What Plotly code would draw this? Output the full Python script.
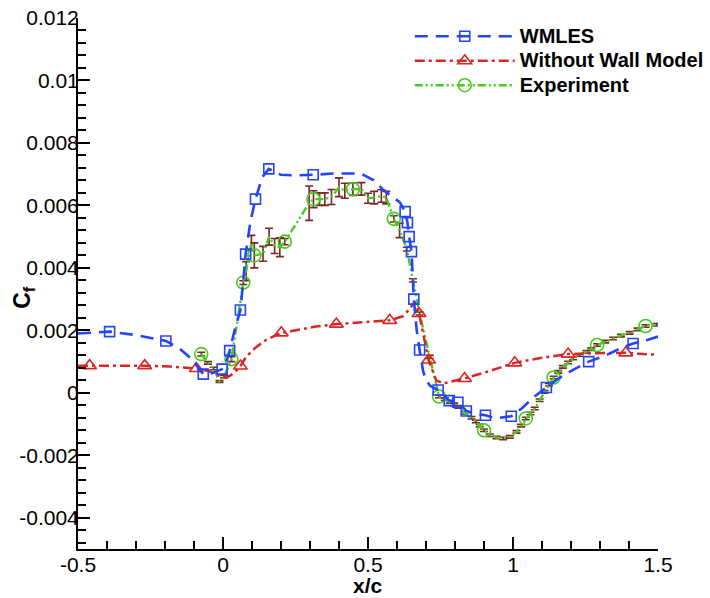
import plotly.graph_objects as go

# ---- WMLES (wall-modelled LES) ----
wm_x = [-0.5, -0.45, -0.391, -0.30, -0.197, -0.15, -0.11, -0.085, -0.068, -0.04, -0.003,
        0.012, 0.023, 0.04, 0.06, 0.07, 0.078, 0.095, 0.112, 0.135, 0.158, 0.20, 0.25,
        0.311, 0.38, 0.45, 0.48, 0.52, 0.55, 0.58, 0.61, 0.628, 0.636, 0.642, 0.650,
        0.658, 0.668, 0.678, 0.69, 0.70, 0.715, 0.742, 0.78, 0.81, 0.839, 0.87, 0.905,
        0.94, 0.994, 1.03, 1.07, 1.115, 1.16, 1.21, 1.261, 1.32, 1.37, 1.414, 1.46, 1.5]
wm_cf = [0.00190, 0.00193, 0.00196, 0.00185, 0.00166, 0.00142, 0.00110, 0.00080, 0.00060,
         0.00062, 0.00076, 0.00100, 0.00135, 0.00200, 0.00265, 0.00360, 0.00444, 0.00550,
         0.00620, 0.00690, 0.00717, 0.00698, 0.00696, 0.00698, 0.00702, 0.00702, 0.00700,
         0.00680, 0.00652, 0.00630, 0.00610, 0.00580, 0.00545, 0.00500, 0.00452, 0.00300,
         0.00200, 0.00137, 0.00070, 0.00040, 0.00022, 0.00009, -0.00025, -0.00030,
         -0.00058, -0.00068, -0.00072, -0.00082, -0.00075, -0.00050, -0.00015, 0.00017,
         0.00048, 0.00075, 0.00100, 0.00120, 0.00142, 0.00158, 0.00168, 0.00180]
wm_marked = [2, 4, 8, 10, 12, 14, 16, 18, 20, 23, 31, 32, 33, 34, 35, 37, 41, 42, 43, 44,
             46, 48, 51, 54, 57]

# ---- LES without wall model ----
nw_x = [-0.5, -0.46, -0.37, -0.27, -0.18, -0.092, -0.05, -0.02, 0.0, 0.02, 0.04, 0.06,
        0.08, 0.115, 0.15, 0.201, 0.26, 0.32, 0.391, 0.46, 0.52, 0.575, 0.62, 0.645,
        0.661, 0.676, 0.709, 0.735, 0.759, 0.833, 0.92, 1.006, 1.10, 1.19, 1.29, 1.389,
        1.45, 1.5]
nw_cf = [0.00087, 0.00087, 0.00088, 0.00087, 0.00084, 0.00078, 0.00070, 0.00057, 0.00050,
         0.00052, 0.00065, 0.00086, 0.00115, 0.00147, 0.00170, 0.00192, 0.00203, 0.00212,
         0.00220, 0.00225, 0.00228, 0.00232, 0.00245, 0.00270, 0.00292, 0.00254, 0.00105,
         0.00040, 0.00030, 0.00046, 0.00070, 0.00096, 0.00112, 0.00124, 0.00127, 0.00128,
         0.00124, 0.00122]
nw_marked = [1, 3, 5, 11, 15, 18, 21, 25, 26, 29, 31, 33, 35]

# ---- Experiment (mean Cf with measurement uncertainty) ----
ex_x = [-0.075, -0.052, -0.032, -0.012, 0.004, 0.029, 0.07, 0.08, 0.098, 0.108, 0.138,
        0.159, 0.178, 0.196, 0.213, 0.297, 0.312, 0.333, 0.351, 0.374, 0.40, 0.42, 0.448,
        0.477, 0.50, 0.521, 0.546, 0.563, 0.589, 0.609, 0.634, 0.655, 0.678, 0.713, 0.745,
        0.765, 0.782, 0.797, 0.811, 0.833, 0.857, 0.872, 0.885, 0.90, 0.92, 0.943, 0.966,
        0.989, 1.012, 1.028, 1.044, 1.06, 1.075, 1.092, 1.109, 1.124, 1.14, 1.156, 1.172,
        1.19, 1.207, 1.23, 1.253, 1.27, 1.29, 1.318, 1.345, 1.372, 1.402, 1.43, 1.457, 1.495]
ex_cf = [0.00124, 0.00096, 0.00078, 0.00036, 0.00052, 0.00108, 0.00353, 0.00390, 0.00480,
         0.00440, 0.00445, 0.00500, 0.00470, 0.00466, 0.00484, 0.00607, 0.00620, 0.00620,
         0.00620, 0.00627, 0.00658, 0.00647, 0.00652, 0.00653, 0.00623, 0.00625, 0.00630,
         0.00625, 0.00557, 0.00520, 0.00460, 0.00360, 0.00254, 0.00115, -0.00012, -0.00020,
         -0.00029, -0.00037, -0.00045, -0.00064, -0.00080, -0.00092, -0.00105, -0.00120,
         -0.00136, -0.00143, -0.00146, -0.00141, -0.00125, -0.00105, -0.00082, -0.00066,
         -0.00050, -0.00024, 0.00003, 0.00026, 0.00049, 0.00067, 0.00083, 0.00097, 0.00110,
         0.00121, 0.00131, 0.00140, 0.00153, 0.00164, 0.00174, 0.00183, 0.00192, 0.00203,
         0.00214, 0.00218]
ex_err = [0.00006, 0.00004, 0.00004, 0.00003, 0.00004, 0.00008, 0.00006, 0.00030, 0.00024,
          0.00040, 0.00024, 0.00027, 0.00024, 0.00030, 0.00010, 0.00055, 0.00027, 0.00020,
          0.00020, 0.00024, 0.00030, 0.00024, 0.00020, 0.00020, 0.00016, 0.00020, 0.00020,
          0.00020, 0.00010, 0.00023, 0.00006, 0.00005, 0.00005, 0.00005, 0.00004, 0.00004,
          0.00004, 0.00004, 0.00004, 0.00004, 0.00004, 0.00004, 0.00004, 0.00004, 0.00004,
          0.00004, 0.00004, 0.00004, 0.00004, 0.00004, 0.00004, 0.00004, 0.00004, 0.00004,
          0.00004, 0.00004, 0.00004, 0.00004, 0.00004, 0.00004, 0.00004, 0.00004, 0.00004,
          0.00004, 0.00004, 0.00004, 0.00004, 0.00004, 0.00004, 0.00004, 0.00004, 0.00004]
ex_marked = [0, 5, 6, 9, 14, 16, 22, 28, 34, 43, 50, 56, 64, 70]

# ---- axis ticks ----
x_ticks = [-0.5, 0, 0.5, 1, 1.5]
x_ticklabels = ["-0.5", "0", "0.5", "1", "1.5"]
y_ticks = [-0.004, -0.002, 0, 0.002, 0.004, 0.006, 0.008, 0.01, 0.012]
y_ticklabels = ["-0.004", "-0.002", "0", "0.002", "0.004", "0.006", "0.008", "0.01", "0.012"]

FONT = "Liberation Sans, Arial, Helvetica, sans-serif"
BLUE = "#2343ff"
RED = "#dc2424"
GREEN = "#46cc1e"
BROWN = "#7a2626"

fig = go.Figure()


def legend_label(text):
    # larger glyphs than the legend's row font, keeping the rows compact
    return '<span style="font-size:20px">' + text + "</span>"


def add_series(x, y, marked, name, rank, color, dash, width, symbol, msize, err=None):
    line = dict(color=color, dash=dash, width=width)
    marker = dict(symbol=symbol, size=msize, color=color, line=dict(color=color, width=1.6))
    error_y = None
    if err is not None:
        error_y = dict(type="data", array=err, visible=True, color=BROWN,
                       thickness=1.6, width=4)
    # curve through every sample
    fig.add_trace(go.Scatter(x=x, y=y, mode="lines", line=line, error_y=error_y,
                             showlegend=False, hoverinfo="skip"))
    # symbols on the selected samples
    fig.add_trace(go.Scatter(x=[x[i] for i in marked], y=[y[i] for i in marked],
                             mode="markers", marker=marker, showlegend=False))
    # legend key (line + symbol)
    fig.add_trace(go.Scatter(x=[None], y=[None], mode="lines+markers",
                             name=legend_label(name), line=line, marker=marker,
                             legendrank=rank))


add_series(ex_x, ex_cf, ex_marked, "Experiment", 3, GREEN,
           "8px,3px,2px,3px,2px,3px", 2.4, "circle-open", 13, err=ex_err)
add_series(nw_x, nw_cf, nw_marked, "Without Wall Model", 2, RED,
           "10px,4px,3px,4px", 2.5, "triangle-up-open", 12)
add_series(wm_x, wm_cf, wm_marked, "WMLES", 1, BLUE,
           "13px,8px", 2.6, "square-open", 10)

axis_common = dict(
    showgrid=False, zeroline=False, showline=True, linecolor="black", linewidth=2,
    ticks="inside", ticklen=12, tickwidth=2, tickcolor="black", mirror=False,
    automargin=False,
    tickfont=dict(family=FONT, size=21, color="black"),
)

fig.update_xaxes(
    range=[-0.5, 1.5], tickmode="array", tickvals=x_ticks, ticktext=x_ticklabels,
    minor=dict(ticks="inside", tick0=-0.5, dtick=0.1, ticklen=8, tickwidth=1.5,
               tickcolor="black"),
    ticklabelstandoff=-4,
    **axis_common,
)
fig.update_yaxes(
    range=[-0.005, 0.012], tickmode="array", tickvals=y_ticks, ticktext=y_ticklabels,
    minor=dict(ticks="inside", tick0=0, dtick=0.0004, ticklen=8, tickwidth=1.5,
               tickcolor="black"),
    ticklabelstandoff=-7,
    **axis_common,
)

# axis titles, set close to the tick labels
fig.add_annotation(
    text="x/c", showarrow=False,
    xref="paper", yref="paper", x=0.5, y=0, xanchor="center", yanchor="middle",
    yshift=-36, font=dict(family=FONT, size=21, color="black", weight="bold"),
)
fig.add_annotation(
    text="C<sub>f</sub>", textangle=-90, showarrow=False,
    xref="paper", yref="paper", x=0, y=0.473, xanchor="center", yanchor="middle",
    xshift=-54, font=dict(family=FONT, size=23, color="black", weight="bold"),
)

fig.update_layout(
    width=710, height=598,
    margin=dict(l=78, r=52, t=18, b=49, autoexpand=False),
    paper_bgcolor="white", plot_bgcolor="white",
    font=dict(family=FONT, color="black"),
    showlegend=True,
    legend=dict(x=0.572, y=0.998, xanchor="left", yanchor="top",
                bgcolor="rgba(0,0,0,0)", borderwidth=0, itemwidth=100,
                font=dict(family=FONT, size=16.5, color="black", weight="bold"),
                tracegroupgap=0),
)

fig.write_html("out.html")
